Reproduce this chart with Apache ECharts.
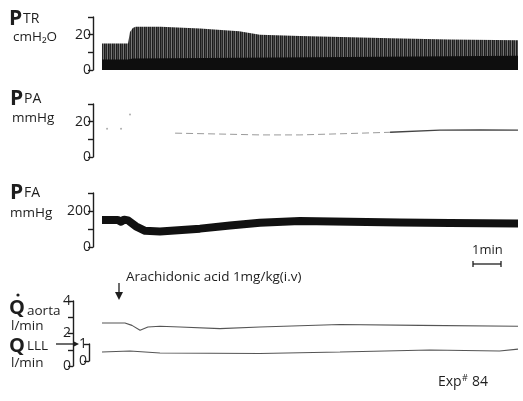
<!DOCTYPE html>
<html><head><meta charset="utf-8">
<script src="https://cdn.jsdelivr.net/npm/echarts@6/dist/echarts.min.js"></script>
<style>html,body{margin:0;padding:0;background:#fff}#c{width:523px;height:401px}</style>
</head><body><div id="c"></div>
<script>
// ---- data (time in minutes from start of trace) ----
const tMax = 14.86;
const ptrPeakT = [0, 0.93, 1.0, 1.1, 1.2, 2.1, 3.5, 4.9, 5.64, 7.07, 8.9, 10.3, 12.4, 14.86];
const ptrPeakV = [15, 15, 21.5, 23.8, 24.5, 24.5, 23.5, 22, 20, 19.2, 18.5, 18, 17.3, 16.8];
const ptrBaseT = [0, 0.93, 1.1, 5.0, 10.0, 14.86];
const ptrBaseV = [6, 6, 6.5, 7, 7.5, 8];
const ppaDotT = [0.18, 0.68, 1.0];
const ppaDotV = [16, 16, 24];
const ppaFaintT = [2.61, 4.21, 5.64, 7.07, 8.86, 10.29];
const ppaFaintV = [13.5, 13, 12.5, 12.5, 13.3, 14];
const ppaDarkT = [10.29, 12.07, 13.5, 14.86];
const ppaDarkV = [14, 15.2, 15.3, 15.2];
const pfaT = [0, 0.57, 0.68, 0.79, 0.93, 1.21, 1.54, 2.07, 3.5, 4.57, 5.64, 7.07, 8.86, 10.64, 12.43, 14.86];
const pfaV = [150, 150, 140, 152, 148, 115, 90, 86, 102, 119, 135, 145, 140, 136, 133, 131];
const qaoT = [0, 0.82, 1.07, 1.36, 1.64, 2.07, 2.79, 4.21, 5.64, 8.5, 11.36, 14.86];
const qaoV = [2.65, 2.65, 2.5, 2.2, 2.4, 2.45, 2.4, 2.3, 2.4, 2.55, 2.5, 2.45];
const qlllT = [0, 1.0, 2.07, 5.64, 8.5, 11.71, 14.2, 14.86];
const qlllV = [0.53, 0.59, 0.47, 0.44, 0.53, 0.65, 0.59, 0.7];
const ptrLabels = [0, 20], ppaLabels = [0, 20], pfaLabels = [0, 200], qaoLabels = [0, 2, 4], qlllLabels = [0, 1];

const zip = (t, v) => t.map((x, i) => [x, v[i]]);
const INK = '#1e1e1e';
const FONT = '"Open Sans", "DejaVu Sans", sans-serif';
const PX_PER_MIN = 28;

// stripe pattern for ventilation trace
const pc = document.createElement('canvas'); pc.width = 4; pc.height = 2;
const pctx = pc.getContext('2d');
['#1c1c1c', '#4a4a4a', '#262626', '#777777'].forEach((c, i) => { pctx.fillStyle = c; pctx.fillRect(i, 0, 1, 2); });

// grid left edge = y-axis position; trace starts at x=102
const grids = [
  {left: 93, right: 5, top: 17, height: 53},
  {left: 93, right: 5, top: 104, height: 53},
  {left: 93, right: 5, top: 193, height: 54},
  {left: 73, right: 5, top: 301, height: 65},
  {left: 89, right: 5, top: 344, height: 17}
];
const xAxes = grids.map((g, i) => ({type: 'value', gridIndex: i,
  min: -(102 - g.left) / PX_PER_MIN, max: tMax, show: false}));
function yAx(i, max, interval, labels) {
  return {type: 'value', gridIndex: i, min: 0, max: max, interval: interval,
    axisLine: {show: true, onZero: false, lineStyle: {color: INK, width: 1.4}},
    axisTick: {show: true, length: 5, lineStyle: {color: INK, width: 1.4}},
    splitLine: {show: false},
    axisLabel: {margin: 2, color: INK, fontSize: 14, fontFamily: FONT,
      formatter: v => labels.indexOf(v) >= 0 ? String(v) : ''}};
}
const yAxes = [
  yAx(0, 30, 10, ptrLabels),
  yAx(1, 30, 10, ppaLabels),
  yAx(2, 300, 100, pfaLabels),
  yAx(3, 4, 1, qaoLabels),
  yAx(4, 1, 1, qlllLabels)
];
const noSym = {showSymbol: false, symbol: 'none', silent: true, animation: false};
const series = [
  Object.assign({type: 'line', xAxisIndex: 0, yAxisIndex: 0, data: zip(ptrPeakT, ptrPeakV),
    lineStyle: {width: 0}, areaStyle: {color: {image: pc, repeat: 'repeat'}, opacity: 1}}, noSym),
  Object.assign({type: 'line', xAxisIndex: 0, yAxisIndex: 0, data: zip(ptrBaseT, ptrBaseV), z: 3,
    lineStyle: {width: 0}, areaStyle: {color: '#0e0e0e', opacity: 1}}, noSym),
  {type: 'scatter', xAxisIndex: 1, yAxisIndex: 1, data: zip(ppaDotT, ppaDotV), symbolSize: 2,
    itemStyle: {color: '#999'}, silent: true, animation: false},
  Object.assign({type: 'line', xAxisIndex: 1, yAxisIndex: 1, data: zip(ppaFaintT, ppaFaintV),
    lineStyle: {width: 1, color: '#9a9a9a', type: [7, 4]}}, noSym),
  Object.assign({type: 'line', xAxisIndex: 1, yAxisIndex: 1, data: zip(ppaDarkT, ppaDarkV),
    lineStyle: {width: 1.3, color: '#444'}}, noSym),
  Object.assign({type: 'line', xAxisIndex: 2, yAxisIndex: 2, data: zip(pfaT, pfaV),
    lineStyle: {width: 8, color: '#111', cap: 'butt', join: 'round'}}, noSym),
  Object.assign({type: 'line', xAxisIndex: 3, yAxisIndex: 3, data: zip(qaoT, qaoV),
    lineStyle: {width: 1.1, color: '#555'}}, noSym),
  Object.assign({type: 'line', xAxisIndex: 4, yAxisIndex: 4, data: zip(qlllT, qlllV),
    lineStyle: {width: 1.1, color: '#555'}}, noSym)
];

function txt(x, y, text, size, weight, extra) {
  return Object.assign({type: 'text', silent: true, style: {text: text, x: x, y: y,
    font: (weight || 'normal') + ' ' + size + 'px ' + FONT, fill: INK,
    textAlign: 'left', textVerticalAlign: 'middle', align: 'left', verticalAlign: 'middle'}}, extra || {});
}
const graphic = [
  txt(9, 19, 'P', 21, 'bold'), txt(23, 19, 'TR', 14),
  txt(13, 37, 'cmH\u2082O', 13.5),
  txt(10, 99, 'P', 21, 'bold'), txt(24, 99, 'PA', 14),
  txt(12, 118, 'mmHg', 13.5),
  txt(10, 193, 'P', 21, 'bold'), txt(24, 193, 'FA', 14),
  txt(10, 213, 'mmHg', 13.5),
  txt(9, 308, 'Q', 20, 'bold'), txt(27, 311, 'aorta', 13.5),
  {type: 'circle', silent: true, shape: {cx: 18, cy: 295, r: 1.6}, style: {fill: INK}},
  txt(11, 326, 'l/min', 13.5),
  txt(9, 346, 'Q', 20, 'bold'), txt(27, 346, 'LLL', 13.5),
  txt(11, 363, 'l/min', 13.5),
  {type: 'line', silent: true, shape: {x1: 56, y1: 344, x2: 75, y2: 344}, style: {stroke: INK, lineWidth: 1.3}},
  {type: 'polygon', silent: true, shape: {points: [[73, 341], [73, 347], [79, 344]]}, style: {fill: INK}},
  {type: 'line', silent: true, shape: {x1: 119, y1: 283, x2: 119, y2: 294}, style: {stroke: INK, lineWidth: 1.3}},
  {type: 'polygon', silent: true, shape: {points: [[115, 292], [123, 292], [119, 300]]}, style: {fill: INK}},
  txt(126, 277, 'Arachidonic acid 1mg/kg(i.v)', 13.5),
  txt(472, 250, '1min', 13),
  {type: 'line', silent: true, shape: {x1: 473, y1: 264, x2: 501, y2: 264}, style: {stroke: INK, lineWidth: 1.3}},
  {type: 'line', silent: true, shape: {x1: 473, y1: 261, x2: 473, y2: 267}, style: {stroke: INK, lineWidth: 1.3}},
  {type: 'line', silent: true, shape: {x1: 501, y1: 261, x2: 501, y2: 267}, style: {stroke: INK, lineWidth: 1.3}},
  txt(438, 382, 'Exp', 14), txt(462, 378, '#', 9), txt(472, 382, '84', 14)
];

const chart = echarts.init(document.getElementById('c'), null, {renderer: 'canvas'});
chart.setOption({animation: false, backgroundColor: '#fff', grid: grids, xAxis: xAxes, yAxis: yAxes,
  series: series, graphic: {elements: graphic}});
</script></body></html>
